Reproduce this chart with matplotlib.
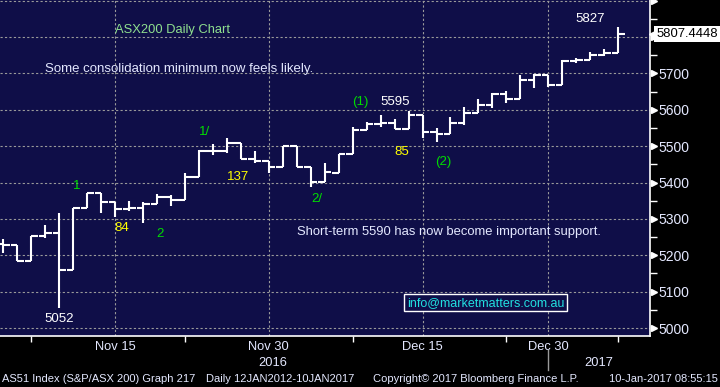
import matplotlib
matplotlib.use("Agg")
import matplotlib.pyplot as plt
import numpy as np

plt.rcParams["font.family"] = ["Liberation Sans", "DejaVu Sans"]

# daily OHLC, AS51 index, 3-Nov-2016 .. 9-Jan-2017 (trading-day index)
opens = [5231, 5227, 5183, 5253, 5260, 5160, 5329, 5370, 5346, 5326,
         5329, 5340, 5359, 5351, 5414, 5486, 5486, 5508, 5464, 5458,
         5442, 5500, 5443, 5401, 5427, 5478, 5544, 5560, 5563, 5546,
         5585, 5538, 5533, 5563, 5591, 5613, 5643, 5629, 5683, 5697,
         5667, 5734, 5737, 5752, 5755]
highs = [5245, 5227, 5253, 5283, 5317, 5329, 5370, 5372, 5346, 5349,
         5346, 5368, 5366, 5427, 5489, 5506, 5522, 5508, 5487, 5458,
         5500, 5500, 5443, 5454, 5478, 5553, 5566, 5585, 5574, 5596,
         5585, 5549, 5580, 5607, 5629, 5646, 5651, 5695, 5698, 5697,
         5736, 5743, 5758, 5766, 5827]
lows = [5205, 5183, 5183, 5248, 5056, 5160, 5329, 5317, 5306, 5322,
        5290, 5340, 5335, 5351, 5414, 5475, 5482, 5464, 5454, 5425,
        5442, 5443, 5387, 5401, 5427, 5478, 5544, 5553, 5546, 5546,
        5523, 5512, 5533, 5559, 5591, 5606, 5619, 5629, 5660, 5664,
        5667, 5729, 5737, 5749, 5755]
closes = [5227, 5183, 5253, 5260, 5160, 5329, 5370, 5346, 5326, 5329,
          5340, 5359, 5351, 5414, 5486, 5486, 5508, 5464, 5458, 5442,
          5500, 5443, 5401, 5429, 5478, 5544, 5560, 5563, 5546, 5585,
          5538, 5533, 5563, 5591, 5613, 5643, 5629, 5683, 5697, 5667,
          5734, 5737, 5752, 5755, 5807.4448]

major_idx = [8, 19, 30, 39]
major_labels = ["Nov 15", "Nov 30", "Dec 15", "Dec 30"]
minor_idx = [2, 13, 25, 36, 44]
ytick_vals = [5000, 5100, 5200, 5300, 5400, 5500, 5600, 5700, 5800, 5900]
ytick_labels = ["5000", "5100", "5200", "5300", "5400", "5500", "5600", "5700", "", ""]

# wave / count labels: (text, x index, price, colour)
wave_labels = [
    ("1", 5.27, 5390, "#00dd00"),
    ("84", 8.49, 5275, "#ffff00"),
    ("2", 11.2, 5258, "#00dd00"),
    ("1/", 14.43, 5540, "#00dd00"),
    ("137", 16.79, 5416, "#ffff00"),
    ("2/", 22.43, 5355, "#00dd00"),
    ("(1)", 25.58, 5622, "#00dd00"),
    ("5595", 28.03, 5622, "white"),
    ("85", 28.53, 5484, "#ffff00"),
    ("(2)", 31.47, 5457, "#00dd00"),
    ("5827", 41.99, 5849, "white"),
    ("5052", 3.98, 5025, "white"),
]

bg = "#0f0e48"
txt = "#e4e8ff"

fig = plt.figure(figsize=(7.2, 3.87), dpi=100, facecolor="black")
ax = fig.add_axes([0, 0.1326, 0.9028, 0.8674])
ax.set_facecolor(bg)

x = np.arange(len(opens))
w = 0.47
ax.vlines(x, lows, highs, color="white", lw=1.5, zorder=3)
ax.hlines(opens, x - w, x, color="white", lw=1.5, zorder=3)
ax.hlines(closes, x, x + w, color="white", lw=1.5, zorder=3)

ax.set_xlim(-0.243, 46.28)
ax.set_ylim(4979, 5902)

# grid
for yv in ytick_vals:
    ax.axhline(yv, color="#9a9a9a", lw=0.8, ls=(0, (2, 2)), zorder=1)
for xv in major_idx:
    ax.axvline(xv, color="#9a9a9a", lw=0.8, ls=(0, (2, 2)), zorder=1)

# right axis
ax.yaxis.tick_right()
ax.set_yticks(ytick_vals)
ax.set_yticklabels(ytick_labels)
ax.set_yticks(np.arange(5050, 5900, 100), minor=True)
ax.tick_params(axis="y", which="major", length=0, pad=6, labelcolor=txt, labelsize=10)
ax.tick_params(axis="y", which="minor", length=5, width=1, color="white", direction="out")
ytr = ax.get_yaxis_transform()
ax.plot([1.006] * len(ytick_vals), ytick_vals, ls="none", marker=">", ms=5,
        color="white", transform=ytr, clip_on=False)

# x axis
ax.set_xticks(major_idx)
ax.set_xticklabels(major_labels)
ax.set_xticks(minor_idx, minor=True)
ax.tick_params(axis="x", which="major", length=0, pad=4, labelcolor=txt, labelsize=9.3)
ax.tick_params(axis="x", which="minor", length=4, width=1, color="white", direction="out")

for s in ["left", "top"]:
    ax.spines[s].set_visible(False)
for s in ["bottom", "right"]:
    ax.spines[s].set_color("white")
    ax.spines[s].set_linewidth(1.2)

xtr = ax.get_xaxis_transform()
ax.text(19.3, -0.08, "2016", transform=xtr, ha="center", va="center", color=txt, fontsize=9.3)
ax.text(42.6, -0.08, "2017", transform=xtr, ha="center", va="center", color=txt, fontsize=9.3)
ax.plot([39, 39], [-0.043, -0.102], color="#9a9a9a", lw=1, transform=xtr, clip_on=False)

# last price box
ax.plot([1.004], [closes[-1]], marker="<", ms=6, color="white", transform=ytr, clip_on=False, zorder=5)
ax.text(1.0095, closes[-1], "%.4f" % closes[-1], transform=ytr, ha="left", va="center",
        color="black", fontsize=9.4, zorder=6,
        bbox=dict(boxstyle="square,pad=0.15", fc="white", ec="none"))

# annotations
for label, xi, yi, col in wave_labels:
    ax.text(xi, yi, label, ha="center", va="center", color=col, fontsize=9.5, zorder=4)

ax.text(12.07, 5819, "ASX200 Daily Chart", ha="center", va="center", color="#8fe08f", fontsize=9.3)
ax.text(2.98, 5712, "Some consolidation minimum now feels likely.", ha="left", va="center",
        color=txt, fontsize=9.5)
ax.text(21.02, 5264, "Short-term 5590 has now become important support.", ha="left",
        va="center", color=txt, fontsize=9.4)
ax.text(34.5, 5069, "info@marketmatters.com.au", ha="center", va="center", color="#22e0e0",
        fontsize=9.0, bbox=dict(boxstyle="square,pad=0.2", fc=bg, ec="white", lw=1))

# footer
fy = 1 - 379 / 387
fig.text(2 / 720, fy, "AS51 Index (S&P/ASX 200) Graph 217", color=txt, fontsize=8.0, va="center")
fig.text(206 / 720, fy, "Daily 12JAN2012-10JAN2017", color=txt, fontsize=8.0, va="center")
fig.text(373 / 720, fy, "Copyright\u00a9 2017 Bloomberg Finance L.P.", color=txt, fontsize=8.0, va="center")
fig.text(718 / 720, fy, "10-Jan-2017 08:55:15", color=txt, fontsize=8.0, va="center", ha="right")

fig.savefig("out.png", dpi=100, facecolor="black")
